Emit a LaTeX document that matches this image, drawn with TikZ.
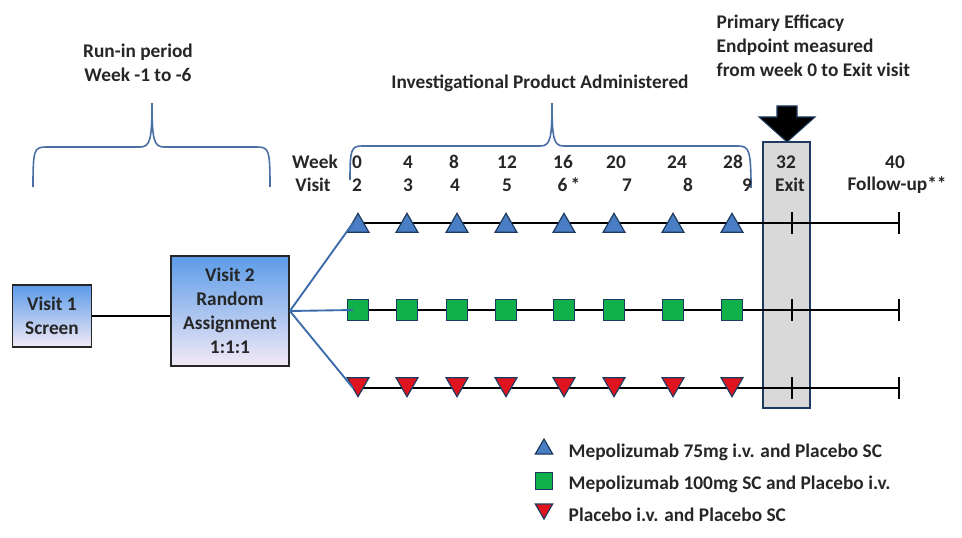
\documentclass[tikz,border=0pt]{standalone}
\usepackage{fontspec}
\setmainfont{Carlito}
\usetikzlibrary{shapes.geometric}

\definecolor{boxtop}{HTML}{5B9BE8}
\definecolor{boxbot}{HTML}{F3EAF6}
\definecolor{navy}{HTML}{1F3A60}
\definecolor{armblue}{HTML}{3A6BAA}
\definecolor{bracecol}{HTML}{4A6FA5}
\definecolor{tricol}{HTML}{4A7EC4}
\definecolor{sqcol}{HTML}{12B04A}
\definecolor{redcol}{HTML}{E0141E}
\definecolor{exitgray}{HTML}{D9D9D9}
\definecolor{ink}{HTML}{262626}

\begin{document}
\begin{tikzpicture}[x=0.75pt,y=-0.75pt,
  every node/.style={font=\fontsize{14.5}{18}\selectfont\bfseries, text=ink},
  visitbox/.style={draw=black!85, line width=1.3pt, top color=boxtop, bottom color=boxbot, align=center, inner sep=0pt},
  upmark/.style={regular polygon, regular polygon sides=3, draw=navy, fill=tricol, line width=0.9pt, minimum size=19pt, inner sep=0pt},
  downmark/.style={upmark, shape border rotate=180, fill=redcol},
  sqmark/.style={rectangle, draw=navy, fill=sqcol, line width=0.9pt, minimum size=16pt, inner sep=0pt},
  rowline/.style={draw=black, line width=1.4pt},
  tickmark/.style={draw=black, line width=1.6pt},
  arm/.style={draw=armblue, line width=1.4pt},
  curly/.style={draw=bracecol, line width=1.2pt}]
  \useasboundingbox (0,0) rectangle (962,538);

  % exit column
  \node[draw=navy, line width=1.2pt, fill=exitgray, minimum width=35.25pt, minimum height=199.5pt, inner sep=0pt] (exitbox) at (786.5,275) {};
  \fill[black, draw=navy, line width=0.8pt] (777,106) -- (797,106) -- (797,117) -- (815,117) -- (787,142) -- (759,117) -- (777,117) -- cycle;

  % treatment rows
  \coordinate (upstart) at (353,223);  \coordinate (upend) at (899,223);
  \coordinate (sqstart) at (353,310);  \coordinate (sqend) at (899,310);
  \coordinate (dnstart) at (353,388);  \coordinate (dnend) at (899,388);
  \draw[rowline] (upstart) -- (upend);
  \draw[rowline] (sqstart) -- (sqend);
  \draw[rowline] (dnstart) -- (dnend);
  \foreach \y in {223,310,388} {
    \draw[tickmark] (792,{\y-11}) -- (792,{\y+11});
    \draw[tickmark] (899,{\y-11}) -- (899,{\y+11});
  }
  \foreach \x [count=\i] in {358,407,457,506,564,614,673,732} {
    \node[upmark] (up\i) at (\x,226) {};
    \node[sqmark] (sq\i) at (\x,310) {};
    \node[downmark] (dn\i) at (\x,384) {};
  }

  % visits
  \node[visitbox, minimum width=59.25pt, minimum height=46.5pt] (v1) at (52,316) {Visit 1\\Screen};
  \node[visitbox, minimum width=88.5pt, minimum height=83pt] (v2) at (230,311) {Visit 2\\Random\\Assignment\\1:1:1};
  \draw[line width=1.4pt] (v1.east) -- (v1.east -| v2.west);
  \draw[arm] (v2.east) -- (upstart);
  \draw[arm] (v2.east) -- (sqstart);
  \draw[arm] (v2.east) -- (dnstart);

  % braces
  \draw[curly] (33,187) .. controls (33,150) and (34,147) .. (46,147) -- (140,147)
    .. controls (150,147) and (152,140) .. (152,103)
    .. controls (152,140) and (154,147) .. (164,147) -- (257,147)
    .. controls (269,147) and (270,150) .. (270,187);
  \draw[curly] (350,180) .. controls (350,150) and (351,146) .. (362,146) -- (540,146)
    .. controls (550,146) and (552,140) .. (552,103)
    .. controls (552,140) and (554,146) .. (564,146) -- (738,146)
    .. controls (749,146) and (751,150) .. (751,188);

  % labels
  \node[align=center] (runin) at (138,63) {Run-in period\\Week -1 to -6};
  \node (ipa) at (540,83) {Investigational Product Administered};
  \node[anchor=west, align=left] (primary) at (712,46) {Primary Efficacy\\Endpoint measured\\from week 0 to Exit visit};
  \node (weeklbl) at (315,162) {Week};
  \node (visitlbl) at (313,185) {Visit};
  \foreach \w/\x in {0/357,4/408,8/454,12/507,16/563,20/616,24/677,28/733,32/786,40/895}
    \node (wk\w) at (\x,162) {\w};
  \foreach \v/\x in {2/357,3/408,4/455,5/507,6\,*/569,7/627,8/688,9/747,Exit/790}
    \node (vs\x) at (\x,185) {\v};
  \node (followup) at (897,185) {Follow-up**};

  % legend
  \node[upmark, minimum size=15pt] (lgup) at (544,449) {};
  \node[sqmark, minimum size=13pt] (lgsq) at (544,481) {};
  \node[downmark, minimum size=15pt] (lgdn) at (544,509) {};
  \node[anchor=west] (lgtxtup) at (564,452) {Mepolizumab 75mg i.v. and Placebo SC};
  \node[anchor=west] (lgtxtsq) at (564,484) {Mepolizumab 100mg SC and Placebo i.v.};
  \node[anchor=west] (lgtxtdn) at (564,515) {Placebo i.v. and Placebo SC};
\end{tikzpicture}
\end{document}
